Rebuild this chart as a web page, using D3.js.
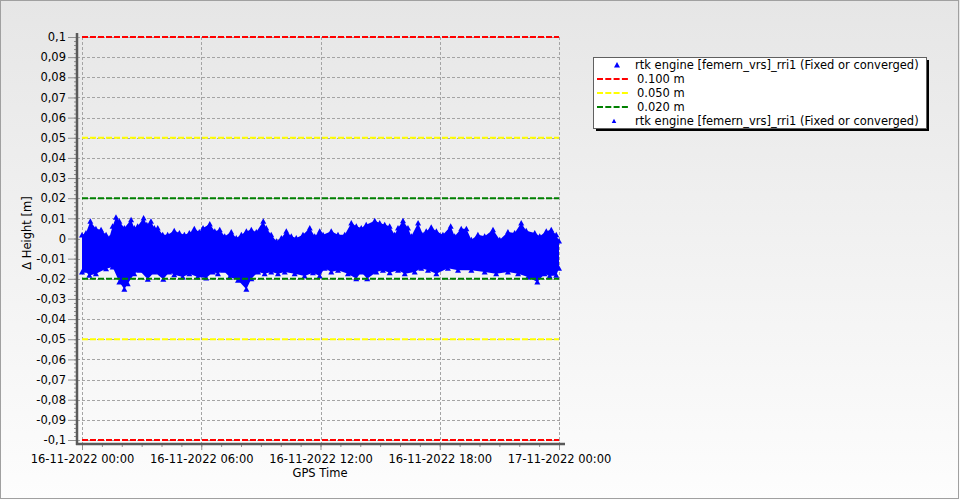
<!DOCTYPE html>
<html>
<head>
<meta charset="utf-8">
<script src="https://cdn.jsdelivr.net/npm/d3@7"></script>
<style>
  html, body { margin: 0; padding: 0; background: #fff; }
  svg { display: block; font-family: "DejaVu Sans", Verdana, sans-serif; }
</style>
</head>
<body>
<svg id="chart" width="960" height="500"></svg>
<script>
// ---------- data ----------
const startDate = new Date(2022, 10, 16, 0, 0);
const endDate = new Date(2022, 10, 17, 0, 0);

// upper envelope of the Δ Height series: [hours since start, metres]
const upperEnvelope = [
  [0.00, 0.0017], [0.20, 0.0027], [0.42, 0.0085], [0.70, 0.0049], [0.96, 0.0044],
  [1.21, 0.0019], [1.37, 0.0002], [1.54, 0.0061], [1.71, 0.0105], [1.88, 0.0085],
  [2.13, 0.0052], [2.47, 0.0093], [2.63, 0.0052], [2.80, 0.0061], [3.10, 0.0102],
  [3.26, 0.0068], [3.47, 0.0085], [3.64, 0.0052], [3.81, 0.0052], [4.06, 0.0019],
  [4.31, 0.0019], [4.64, 0.0039], [4.90, 0.0027], [5.15, 0.0019], [5.40, 0.0027],
  [5.65, 0.0049], [5.90, 0.0032], [6.09, 0.0052], [6.43, 0.0072], [6.68, 0.0036],
  [6.93, 0.0044], [7.18, 0.0011], [7.51, 0.0032], [7.76, 0.0002], [8.02, 0.0019],
  [8.27, 0.0036], [8.52, 0.0044], [8.77, 0.0032], [9.12, 0.0085], [9.27, 0.0052],
  [9.52, 0.0019], [9.78, -0.0014], [10.03, 0.0002], [10.28, 0.0036], [10.53, 0.0011],
  [10.78, 0.0002], [11.12, 0.0019], [11.46, 0.0052], [11.71, 0.0011], [11.96, 0.0036],
  [12.13, 0.0019], [12.54, 0.0036], [12.88, 0.0019], [13.22, 0.0019], [13.55, 0.0077],
  [13.80, 0.0061], [14.05, 0.0052], [14.30, 0.0068], [14.73, 0.0088], [14.98, 0.0077],
  [15.23, 0.0068], [15.48, 0.0061], [15.73, 0.0019], [15.90, 0.0052], [16.15, 0.0088],
  [16.40, 0.0052], [16.57, 0.0011], [16.91, 0.0077], [17.16, 0.0019], [17.32, 0.0036],
  [17.57, 0.0056], [17.83, 0.0036], [18.16, 0.0019], [18.55, 0.0061], [18.75, 0.0011],
  [19.08, 0.0049], [19.34, 0.0049], [19.59, -0.0006], [19.92, 0.0019], [20.26, 0.0011],
  [20.68, 0.0044], [21.02, -0.0006], [21.43, 0.0032], [21.77, 0.0027], [22.10, 0.0077],
  [22.35, 0.0039], [22.78, 0.0027], [23.03, 0.0011], [23.36, 0.0036], [23.61, 0.0044],
  [23.86, 0.0019], [24.00, -0.0012]
];

// lower envelope of the Δ Height series: [hours since start, metres]
const lowerEnvelope = [
  [0.00, -0.0166], [0.12, -0.0158], [0.37, -0.0183], [0.70, -0.0175], [1.21, -0.0150],
  [1.54, -0.0141], [1.88, -0.0216], [2.13, -0.0252], [2.30, -0.0224], [2.63, -0.0175],
  [2.88, -0.0158], [3.31, -0.0202], [3.64, -0.0166], [4.09, -0.0202], [4.39, -0.0166],
  [4.64, -0.0180], [5.07, -0.0191], [5.40, -0.0175], [5.82, -0.0191], [6.25, -0.0196],
  [6.59, -0.0166], [6.84, -0.0175], [7.09, -0.0158], [7.43, -0.0191], [7.85, -0.0207],
  [8.27, -0.0252], [8.52, -0.0200], [8.86, -0.0166], [9.19, -0.0175], [9.52, -0.0166],
  [9.86, -0.0175], [10.20, -0.0166], [10.70, -0.0175], [11.20, -0.0186], [11.62, -0.0170],
  [11.96, -0.0186], [12.21, -0.0148], [12.54, -0.0166], [12.88, -0.0158], [13.38, -0.0175],
  [13.80, -0.0200], [14.05, -0.0166], [14.35, -0.0200], [14.81, -0.0166], [15.14, -0.0158],
  [15.48, -0.0170], [15.90, -0.0158], [16.24, -0.0175], [16.74, -0.0166], [17.07, -0.0148],
  [17.41, -0.0158], [17.83, -0.0175], [18.41, -0.0148], [18.92, -0.0158], [19.59, -0.0158],
  [20.26, -0.0166], [20.84, -0.0175], [21.43, -0.0166], [21.94, -0.0175], [22.44, -0.0191],
  [22.91, -0.0216], [23.28, -0.0175], [23.53, -0.0186], [23.86, -0.0183], [24.00, -0.0148]
];

const thresholds = [0.1, 0.05, 0.02];
const thresholdColors = ["#ff0000", "#ffff00", "#008000"];
const thresholdLabels = ["0.100 m", "0.050 m", "0.020 m"];
const seriesName = "rtk engine [femern_vrs]_rri1 (Fixed or converged)";
const yTickValues = d3.range(-10, 11).map(i => i / 100);
const yMinorValues = d3.range(-50, 51).map(i => i / 500);
const xTickStepHours = 6;
const xMinorStepMinutes = 90;
const yTitle = "Δ Height [m]";
const xTitle = "GPS Time";

// ---------- layout ----------
const FS = 11.5;
const svg = d3.select("#chart");
const plotLeft = 82, plotRight = 559, plotTop = 37, plotBottom = 440;
const axisX = 77, axisY = 444;

const defs = svg.append("defs");
const grad = defs.append("linearGradient").attr("id", "bg").attr("x1", 0).attr("y1", 0).attr("x2", 0).attr("y2", 1);
grad.append("stop").attr("offset", "0%").attr("stop-color", "#e6e6e6");
grad.append("stop").attr("offset", "100%").attr("stop-color", "#fdfdfd");

svg.append("rect").attr("x", 0).attr("y", 0).attr("width", 960).attr("height", 500).attr("fill", "url(#bg)");
svg.append("rect").attr("x", 0.5).attr("y", 0.5).attr("width", 958).attr("height", 498)
  .attr("fill", "none").attr("stroke", "#a0a0a0");

const x = d3.scaleTime().domain([startDate, endDate]).range([plotLeft, plotRight]);
const y = d3.scaleLinear().domain([-0.1, 0.1]).range([plotBottom, plotTop]);
const toDate = h => new Date(startDate.getTime() + h * 3600e3);

// grid
const grid = svg.append("g").attr("stroke", "#a4a4a4").attr("stroke-dasharray", "3,2").attr("shape-rendering", "crispEdges");
grid.selectAll("line.h").data(yTickValues).join("line")
  .attr("x1", axisX).attr("x2", plotRight + 3)
  .attr("y1", d => Math.round(y(d)) + 0.5).attr("y2", d => Math.round(y(d)) + 0.5);
const xMajor = x.ticks(d3.timeHour.every(xTickStepHours));
grid.selectAll("line.v").data(xMajor).join("line")
  .attr("x1", d => Math.round(x(d)) + 0.5).attr("x2", d => Math.round(x(d)) + 0.5)
  .attr("y1", plotTop).attr("y2", axisY);

// series band
const bandPts = upperEnvelope.concat(lowerEnvelope.slice().reverse());
svg.append("path")
  .attr("d", d3.line().x(d => x(toDate(d[0]))).y(d => y(d[1]))(bandPts) + "Z")
  .attr("fill", "#0000ff");
const tri = "M0,-3L3,2.5L-3,2.5Z";
svg.append("g").selectAll("path").data(upperEnvelope.concat(lowerEnvelope)).join("path")
  .attr("transform", d => `translate(${x(toDate(d[0]))},${y(d[1])})`)
  .attr("d", tri).attr("fill", "#0000ff");

// threshold lines
thresholds.forEach((t, i) => {
  [t, -t].forEach(v => {
    svg.append("line")
      .attr("x1", plotLeft).attr("x2", plotRight)
      .attr("y1", y(v)).attr("y2", y(v))
      .attr("stroke", thresholdColors[i]).attr("stroke-width", 2).attr("stroke-dasharray", "6,2");
  });
});

// axes
const yAxis = svg.append("g").attr("transform", `translate(${axisX},0)`)
  .call(d3.axisLeft(y).tickValues(yTickValues).tickSize(9).tickPadding(2)
    .tickFormat(d => String(+d.toFixed(2)).replace(".", ",")));
yAxis.select(".domain").remove();
yAxis.selectAll(".tick line").attr("stroke", "#909090");
yAxis.selectAll("text").attr("font-size", FS).attr("fill", "#000").attr("font-family", "DejaVu Sans");
const yMinor = svg.append("g").attr("transform", `translate(${axisX},0)`)
  .call(d3.axisLeft(y).tickValues(yMinorValues).tickSize(3).tickFormat(""));
yMinor.select(".domain").remove();
yMinor.selectAll(".tick line").attr("stroke", "#909090");

const xAxis = svg.append("g").attr("transform", `translate(0,${axisY})`)
  .call(d3.axisBottom(x).ticks(d3.timeHour.every(xTickStepHours)).tickSize(6).tickPadding(5)
    .tickFormat(d3.timeFormat("%d-%m-%Y %H:%M")));
xAxis.select(".domain").remove();
xAxis.selectAll(".tick line").attr("stroke", "#909090");
xAxis.selectAll("text").attr("font-size", FS).attr("fill", "#000").attr("font-family", "DejaVu Sans");
const xMinor = svg.append("g").attr("transform", `translate(0,${axisY})`)
  .call(d3.axisBottom(x).ticks(d3.timeMinute.every(xMinorStepMinutes)).tickSize(3).tickFormat(""));
xMinor.select(".domain").remove();
xMinor.selectAll(".tick line").attr("stroke", "#909090");

// thick axis lines
svg.append("line").attr("x1", axisX).attr("x2", axisX).attr("y1", 33).attr("y2", axisY + 1)
  .attr("stroke", "#5a5a5a").attr("stroke-width", 2.5);
svg.append("line").attr("x1", axisX - 1).attr("x2", 565).attr("y1", axisY).attr("y2", axisY)
  .attr("stroke", "#5a5a5a").attr("stroke-width", 2.5);

// titles
svg.append("text").attr("transform", "translate(31,233) rotate(-90)")
  .attr("text-anchor", "middle").attr("font-size", FS).attr("fill", "#000").text(yTitle);
svg.append("text").attr("x", 320).attr("y", 477)
  .attr("text-anchor", "middle").attr("font-size", FS).attr("fill", "#000").text(xTitle);

// legend
const lg = svg.append("g");
const lx = 593, ly = 57, lw = 333, lh = 71;
lg.append("rect").attr("x", lx + 3).attr("y", ly + 3).attr("width", lw).attr("height", lh).attr("fill", "#000");
lg.append("rect").attr("x", lx + 0.5).attr("y", ly + 0.5).attr("width", lw).attr("height", lh)
  .attr("fill", "#fff").attr("stroke", "#606060");
const rows = [
  { type: "tri", size: 1, label: seriesName },
  { type: "line", color: thresholdColors[0], label: thresholdLabels[0] },
  { type: "line", color: thresholdColors[1], label: thresholdLabels[1] },
  { type: "line", color: thresholdColors[2], label: thresholdLabels[2] },
  { type: "tri", size: 0.75, label: seriesName }
];
rows.forEach((r, i) => {
  const cy = 65 + i * 14;
  if (r.type === "tri") {
    lg.append("path").attr("transform", `translate(${i === 0 ? 617 : 614},${cy}) scale(${r.size})`)
      .attr("d", tri).attr("fill", "#0000ff");
    lg.append("text").attr("x", 635).attr("y", cy).attr("dy", "0.35em")
      .attr("font-size", FS).attr("fill", "#000").text(r.label);
  } else {
    lg.append("line").attr("x1", 597).attr("x2", 629).attr("y1", cy).attr("y2", cy)
      .attr("stroke", r.color).attr("stroke-width", 2).attr("stroke-dasharray", "6,2.3");
    lg.append("text").attr("x", 637).attr("y", cy).attr("dy", "0.35em")
      .attr("font-size", FS).attr("fill", "#000").text(r.label);
  }
});
</script>
</body>
</html>
